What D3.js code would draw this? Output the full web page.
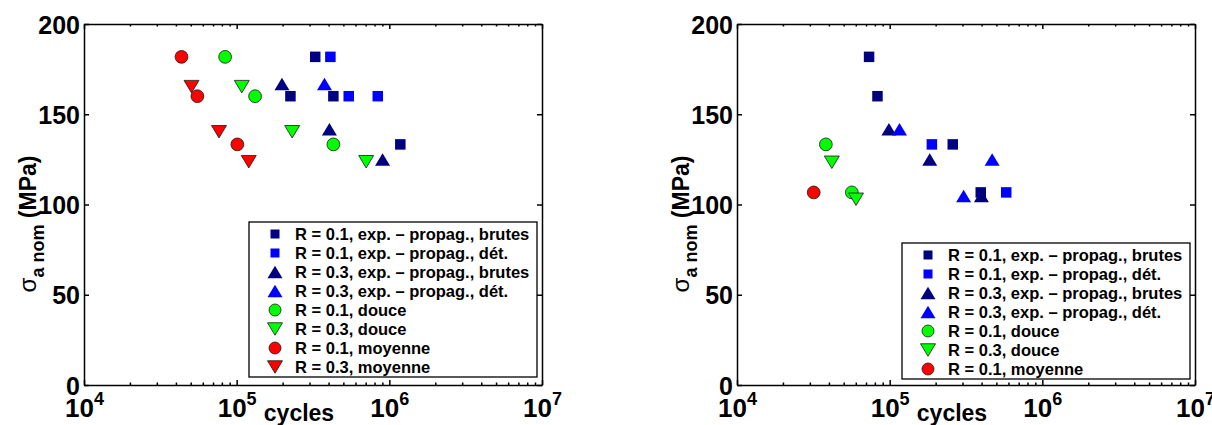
<!DOCTYPE html>
<html>
<head>
<meta charset="utf-8">
<title>sigma a nom vs cycles</title>
<style>
  body { margin: 0; background: #fff; }
  svg text { font-family: "Liberation Sans", Arial, sans-serif; font-weight: bold; fill: #000; }
  .axis path, .axis line { fill: none; stroke: #000; stroke-width: 1.5; }
  .axis .minor line { stroke-width: 1; }
</style>
<script src="https://d3js.org/d3.v7.min.js"></script>
</head>
<body>
<script>
// ticks
var xTicks = [1e4, 1e5, 1e6, 1e7];
var yTicks = [0, 50, 100, 150, 200];

// left panel : [cycles, sigma_a nom (MPa)]
var leftNavySq   = [[327000,181.8],[225000,160],[430000,160],[1180000,133.3]];
var leftBlueSq   = [[411000,181.8],[542000,160],[840000,160]];
var leftNavyUp   = [[198000,166.7],[405000,141.7],[903000,125]];
var leftBlueUp   = [[376000,166.7]];
var leftGreenCi  = [[84000,181.8],[132000,160],[430000,133.3]];
var leftGreenDn  = [[108000,165.3],[231000,140.3],[705000,123.7]];
var leftRedCi    = [[43500,181.8],[55300,160],[101000,133.3]];
var leftRedDn    = [[50600,165.3],[76600,140.3],[120000,123.7]];

// right panel
var rightNavySq  = [[73300,181.8],[83200,160],[259000,133.3],[395000,106.7]];
var rightBlueSq  = [[189000,133.3],[580000,106.7]];
var rightNavyUp  = [[98900,141.7],[183000,125],[399000,104.7]];
var rightBlueUp  = [[116000,141.7],[469000,125],[305000,104.7]];
var rightGreenCi = [[38200,133.3],[56500,106.7]];
var rightGreenDn = [[41800,123.4],[60200,102.9]];
var rightRedCi   = [[31800,106.7]];

var legendLabels = [
  'R = 0.1, exp. \u2013 propag., brutes',
  'R = 0.1, exp. \u2013 propag., dét.',
  'R = 0.3, exp. \u2013 propag., brutes',
  'R = 0.3, exp. \u2013 propag., dét.',
  'R = 0.1, douce',
  'R = 0.3, douce',
  'R = 0.1, moyenne',
  'R = 0.3, moyenne'
];

// marker styles (same order as legend)
var styles = [
  {type:'sq',   color:'#000080'},
  {type:'sq',   color:'#0000ff'},
  {type:'up',   color:'#000080'},
  {type:'up',   color:'#0000ff'},
  {type:'circ', color:'#00ff00'},
  {type:'down', color:'#00ff00'},
  {type:'circ', color:'#ff0000'},
  {type:'down', color:'#ff0000'}
];

var W = 1212, H = 425;
var svg = d3.select('body').append('svg')
  .attr('width', W).attr('height', H);

function markerPath(type, big) {
  var s = big ? 10.5 : 9, w = 15, h = 12.5, r = big ? 6.4 : 6;
  if (type === 'sq') return 'M' + (-s/2) + ',' + (-s/2) + 'h' + s + 'v' + s + 'h' + (-s) + 'Z';
  if (type === 'up') return 'M0,' + (-h/2) + 'L' + (w/2) + ',' + (h/2) + 'L' + (-w/2) + ',' + (h/2) + 'Z';
  if (type === 'down') return 'M' + (-w/2) + ',' + (-h/2) + 'L' + (w/2) + ',' + (-h/2) + 'L0,' + (h/2) + 'Z';
  return 'M' + (-r) + ',0A' + r + ',' + r + ' 0 1,1 ' + r + ',0A' + r + ',' + r + ' 0 1,1 ' + (-r) + ',0Z';
}

function styleMarker(sel, st) {
  sel.attr('fill', st.color)
    .attr('stroke', (st.type === 'circ' || st.type === 'down') ? '#1a1a1a' : 'none')
    .attr('stroke-width', 0.8);
}

function drawPanel(p) {
  var x = d3.scaleLog().domain([1e4, 1e7]).range([p.x0, p.x1]);
  var y = d3.scaleLinear().domain([0, 200]).range([p.y1, p.y0]);
  var g = svg.append('g');

  // minor x ticks
  var minor = [];
  xTicks.slice(0, -1).forEach(function(d) { for (var k = 2; k < 10; k++) minor.push(d * k); });

  g.append('g').attr('class', 'axis minor')
    .attr('transform', 'translate(0,' + p.y1 + ')')
    .call(d3.axisBottom(x).tickValues(minor).tickSize(-2.5).tickSizeOuter(0).tickFormat(''))
    .select('.domain').remove();
  g.append('g').attr('class', 'axis minor')
    .attr('transform', 'translate(0,' + p.y0 + ')')
    .call(d3.axisTop(x).tickValues(minor).tickSize(-2.5).tickSizeOuter(0).tickFormat(''))
    .select('.domain').remove();

  // major axes
  var xb = g.append('g').attr('class', 'axis')
    .attr('transform', 'translate(0,' + p.y1 + ')')
    .call(d3.axisBottom(x).tickValues(xTicks).tickSize(-5).tickSizeOuter(0).tickPadding(0).tickFormat(''));
  xb.selectAll('.tick text').each(function(d) {
    var t = d3.select(this).attr('y', 32).attr('dy', null).style('font-size', '26px');
    t.append('tspan').text('10');
    t.append('tspan').attr('dy', -12).style('font-size', '18px').text(Math.round(Math.log10(d)));
  });
  g.append('g').attr('class', 'axis')
    .attr('transform', 'translate(0,' + p.y0 + ')')
    .call(d3.axisTop(x).tickValues(xTicks).tickSize(-5).tickSizeOuter(0).tickFormat(''));

  g.append('g').attr('class', 'axis')
    .attr('transform', 'translate(' + p.x0 + ',0)')
    .call(d3.axisLeft(y).tickValues(yTicks).tickSize(-5).tickSizeOuter(0).tickPadding(4))
    .selectAll('.tick text').style('font-size', '25px').attr('dy', '0.36em');
  g.append('g').attr('class', 'axis')
    .attr('transform', 'translate(' + p.x1 + ',0)')
    .call(d3.axisRight(y).tickValues(yTicks).tickSize(-5).tickSizeOuter(0).tickFormat(''));

  // axis titles
  g.append('text')
    .attr('x', p.x0 + 215).attr('y', 421)
    .attr('text-anchor', 'middle')
    .style('font-size', '23px')
    .text('cycles');

  var yl = g.append('text')
    .attr('transform', 'translate(' + (p.x0 - 48) + ',224) rotate(-90)')
    .attr('text-anchor', 'middle');
  yl.append('tspan').style('font-size', '24px').style('font-weight', 'normal').text('\u03c3');
  yl.append('tspan').attr('dy', 8).style('font-size', '18px').text('a nom');
  yl.append('tspan').attr('dy', -8).style('font-size', '23px').text(' (MPa)');

  // points
  p.order.forEach(function(i) {
    var st = styles[i];
    g.append('g').selectAll('path')
      .data(p.series[i])
      .enter().append('path')
      .attr('d', markerPath(st.type, true))
      .attr('transform', function(d) { return 'translate(' + x(d[0]) + ',' + y(d[1]) + ')'; })
      .call(styleMarker, st);
  });

  // legend
  var n = p.series.length, rowH = 19;
  var lw = 288, lh = 12 + (n - 1) * rowH + 10;
  var lg = g.append('g')
    .attr('transform', 'translate(' + (p.x1 - 5 - lw) + ',' + (p.y1 - p.legBottom - lh) + ')');
  lg.append('rect').attr('width', lw).attr('height', lh)
    .attr('fill', '#fff').attr('stroke', '#000').attr('stroke-width', 1.3);
  var rows = lg.selectAll('.row').data(d3.range(n)).enter().append('g')
    .attr('class', 'row')
    .attr('transform', function(i) { return 'translate(0,' + (12 + i * rowH) + ')'; });
  rows.append('path')
    .attr('transform', 'translate(26,0)')
    .attr('d', function(i) { return markerPath(styles[i].type, false); })
    .each(function(i) { styleMarker(d3.select(this), styles[i]); });
  rows.append('text')
    .attr('x', 46).attr('dy', '0.36em')
    .style('font-size', '16.5px')
    .text(function(i) { return legendLabels[i]; });
}

drawPanel({
  x0: 84, x1: 542, y0: 24, y1: 385, legBottom: 8,
  series: [leftNavySq, leftBlueSq, leftNavyUp, leftBlueUp, leftGreenCi, leftGreenDn, leftRedCi, leftRedDn],
  order: [0, 1, 2, 3, 4, 5, 7, 6]
});
drawPanel({
  x0: 737, x1: 1195, y0: 24, y1: 385, legBottom: 6,
  series: [rightNavySq, rightBlueSq, rightNavyUp, rightBlueUp, rightGreenCi, rightGreenDn, rightRedCi],
  order: [0, 1, 2, 3, 4, 5, 6]
});
</script>
</body>
</html>
